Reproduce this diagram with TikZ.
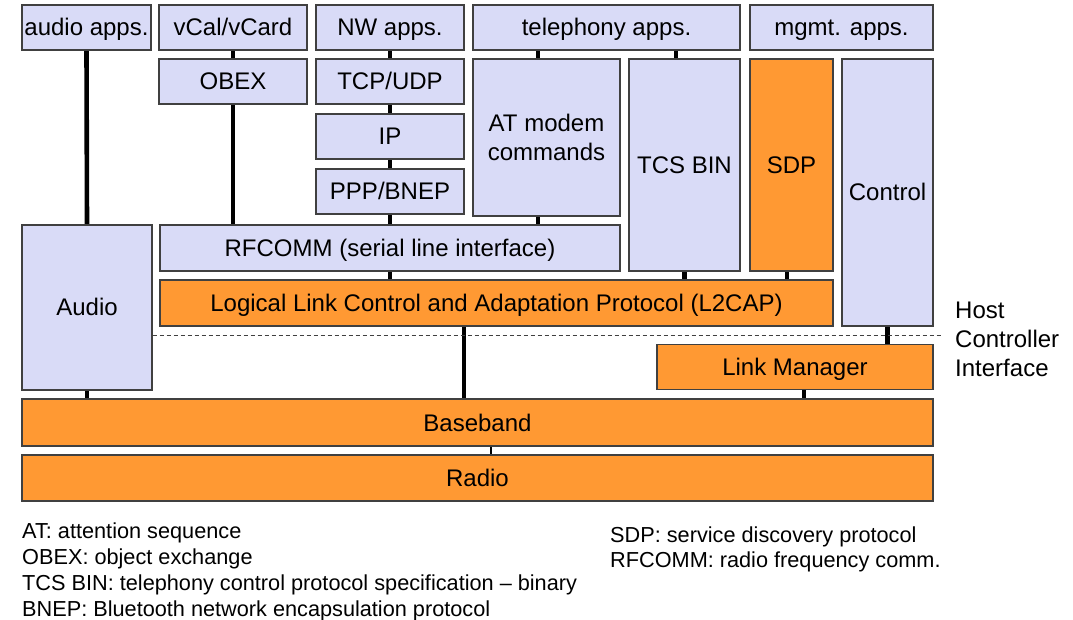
\documentclass[tikz,border=0pt]{standalone}
\usepackage{fontspec}
\setmainfont{Liberation Sans}
\usepackage{tikz}
\usetikzlibrary{shapes,backgrounds}
\definecolor{hostblue}{RGB}{217,219,247}
\definecolor{ctrlorange}{RGB}{255,153,51}
\definecolor{edgegray}{RGB}{64,64,64}
\tikzstyle{layerbox}=[rectangle,draw=edgegray,line width=1.2pt,
  			  inner sep=0pt,minimum height=46]
\tikzstyle{oneline}=[text height=17pt,text depth=0pt]
\tikzstyle{upper}=[layerbox,oneline,fill=hostblue,minimum height=45]
\tikzstyle{lower}=[layerbox,oneline,fill=ctrlorange]
\tikzstyle{link}=[black,line width=4.6pt]
\tikzstyle{thinlink}=[black,line width=1.8pt]
\tikzstyle{legend}=[anchor=west,inner sep=0pt,font=\fontsize{21.7}{26}\selectfont]

\begin{document}
\begin{tikzpicture}[x=1pt,y=-1pt,font=\fontsize{24}{29}\selectfont]
  \useasboundingbox (0,0) rectangle (1073,620);

  % applications
	\node[upper,minimum width=129] (aapps) at (86.5,27.5) {audio apps.};
	\node[upper,minimum width=148] (vcal) at (233,27.5) {vCal/vCard};
	\node[upper,minimum width=148] (nwapps) at (390,27.5) {NW apps.};
	\node[upper,minimum width=267] (telapps) at (606.5,27.5) {telephony apps.};
	\node[upper,minimum width=183] (mgmtapps) at (841.5,27.5) {mgmt. apps.};

  % middleware
	\node[upper,minimum width=148] (obex) at (233,81.5) {OBEX};
	\node[upper,minimum width=148] (tcp) at (390,81.5) {TCP/UDP};
	\node[upper,minimum width=148] (ip) at (390,136.5) {IP};
	\node[upper,minimum width=148] (ppp) at (390,191.5) {PPP/BNEP};
	\node[layerbox,fill=hostblue,minimum width=147,minimum height=157,align=center] (atcmd)
		at (546.5,137.5) {AT modem\\commands};
	\node[upper,minimum width=111,minimum height=212] (tcsbin) at (684.5,165) {TCS BIN};
	\node[lower,minimum width=83,minimum height=212] (sdp) at (791.5,165) {SDP};
	\node[upper,minimum width=91,minimum height=267] (control) at (887.5,192.5) {Control};
	\node[upper,minimum width=130,minimum height=165] (audio) at (87,307.5) {Audio};
	\node[upper,minimum width=460,minimum height=46] (rfcomm) at (390,248)
		{RFCOMM (serial line interface)};
	\node[lower,minimum width=673] (l2cap) at (496.5,303)
		{Logical Link Control and Adaptation Protocol (L2CAP)};

  % controller
	\node[lower,minimum width=276,minimum height=45] (lm) at (795,367) {Link Manager};
	\node[lower,minimum width=911,minimum height=47] (baseband) at (477.5,422.5) {Baseband};
	\node[lower,minimum width=911] (radio) at (477.5,478) {Radio};

  % host controller interface
	\coordinate (hcitip) at (943,335);
	\draw[edgegray,line width=1pt,dash pattern=on 4pt off 3pt]
		(audio.east |- hcitip) -- (hcitip);
	\node[anchor=west,align=left,inner sep=0pt] (hci) at (955,339)
		{Host\\Controller\\Interface};

  \begin{scope}[on background layer]
	\draw[link] (aapps.south) -- (audio.north);
	\draw[link] (vcal.south) -- (obex.north);
	\draw[link] (obex.south) -- (obex.south |- rfcomm.north);
	\draw[link] (nwapps.south) -- (tcp.north);
	\draw[link] (tcp.south) -- (ip.north);
	\draw[link] (ip.south) -- (ppp.north);
	\draw[link] (ppp.south) -- (rfcomm.north);
	\draw[link] (rfcomm.south) -- (rfcomm.south |- l2cap.north);
	\draw[link] ([xshift=-8.5pt]atcmd.north) -- ([xshift=-8.5pt]atcmd.north |- telapps.south);
	\draw[link] ([xshift=-8.5pt]atcmd.south) -- ([xshift=-8.5pt]atcmd.south |- rfcomm.north);
	\draw[link] ([xshift=-8.5pt]tcsbin.north) -- ([xshift=-8.5pt]tcsbin.north |- telapps.south);
	\draw[link] (tcsbin.south) -- (tcsbin.south |- l2cap.north);
	\draw[link] ([xshift=-4.5pt]sdp.south) -- ([xshift=-4.5pt]sdp.south |- l2cap.north);
	\draw[link] (control.south) -- (control.south |- lm.north);
	\draw[link] ([xshift=-32.5pt]l2cap.south) -- ([xshift=-32.5pt]l2cap.south |- baseband.north);
	\draw[link] (audio.south) -- (audio.south |- baseband.north);
	\draw[link] ([xshift=9pt]lm.south) -- ([xshift=9pt]lm.south |- baseband.north);
	\draw[thinlink] ([xshift=13.5pt]baseband.south) -- ([xshift=13.5pt]radio.north);
  \end{scope}

  % legend
	\node[legend] (kat) at (22,533) {AT: attention sequence};
	\node[legend] (kobex) at (22,559) {OBEX: object exchange};
	\node[legend] (ktcs) at (22,585) {TCS BIN: telephony control protocol specification – binary};
	\node[legend] (kbnep) at (22,611) {BNEP: Bluetooth network encapsulation protocol};
	\node[legend] (ksdp) at (610,537) {SDP: service discovery protocol};
	\node[legend] (krf) at (610,562) {RFCOMM: radio frequency comm.};
\end{tikzpicture}
\end{document}
